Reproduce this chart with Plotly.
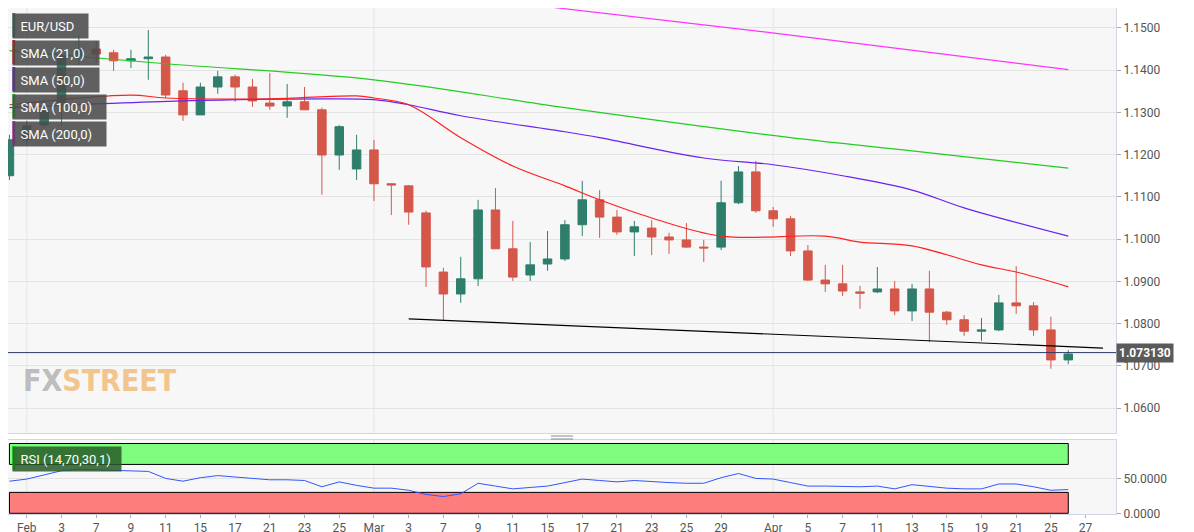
import plotly.graph_objects as go
from plotly.subplots import make_subplots

dates = ["2022-01-31", "2022-02-01", "2022-02-02", "2022-02-03", "2022-02-04",
         "2022-02-07", "2022-02-08", "2022-02-09", "2022-02-10", "2022-02-11",
         "2022-02-14", "2022-02-15", "2022-02-16", "2022-02-17", "2022-02-18",
         "2022-02-21", "2022-02-22", "2022-02-23", "2022-02-24", "2022-02-25",
         "2022-02-28", "2022-03-01", "2022-03-02", "2022-03-03", "2022-03-04",
         "2022-03-07", "2022-03-08", "2022-03-09", "2022-03-10", "2022-03-11",
         "2022-03-14", "2022-03-15", "2022-03-16", "2022-03-17", "2022-03-18",
         "2022-03-21", "2022-03-22", "2022-03-23", "2022-03-24", "2022-03-25",
         "2022-03-28", "2022-03-29", "2022-03-30", "2022-03-31", "2022-04-01",
         "2022-04-04", "2022-04-05", "2022-04-06", "2022-04-07", "2022-04-08",
         "2022-04-11", "2022-04-12", "2022-04-13", "2022-04-14", "2022-04-15",
         "2022-04-18", "2022-04-19", "2022-04-20", "2022-04-21", "2022-04-22",
         "2022-04-25", "2022-04-26"]

opens = [1.1150, 1.1235, 1.1270, 1.1322, 1.1434, 1.1450, 1.1441, 1.1422, 1.1427, 1.1431,
         1.1351, 1.1294, 1.1360, 1.1384, 1.1360, 1.1322, 1.1315, 1.1325, 1.1306, 1.1199,
         1.1166, 1.1211, 1.1131, 1.1126, 1.1062, 1.0922, 1.0870, 1.0906, 1.1069, 1.0977,
         1.0915, 1.0941, 1.0953, 1.1034, 1.1093, 1.1052, 1.1017, 1.1026, 1.1005, 1.0998,
         1.0981, 1.0981, 1.1086, 1.1159, 1.1067, 1.1048, 1.0972, 1.0903, 1.0894, 1.0875,
         1.0875, 1.0882, 1.0830, 1.0882, 1.0827, 1.0809, 1.0782, 1.0785, 1.0849, 1.0842,
         1.0785, 1.0714]
highs = [1.1247, 1.1280, 1.1330, 1.1453, 1.1483, 1.1469, 1.1448, 1.1448, 1.1495, 1.1436,
         1.1370, 1.1370, 1.1398, 1.1389, 1.1379, 1.1393, 1.1367, 1.1360, 1.1311, 1.1270,
         1.1247, 1.1235, 1.1131, 1.1128, 1.1067, 1.0932, 1.0958, 1.1093, 1.1121, 1.1043,
         1.0993, 1.1019, 1.1045, 1.1138, 1.1116, 1.1069, 1.1043, 1.1045, 1.1015, 1.1038,
         1.0998, 1.1138, 1.1173, 1.1185, 1.1076, 1.1055, 1.0986, 1.0939, 1.0939, 1.0889,
         1.0934, 1.0901, 1.0894, 1.0925, 1.0830, 1.0820, 1.0813, 1.0868, 1.0936, 1.0851,
         1.0816, 1.0737]
lows = [1.1140, 1.1223, 1.1263, 1.1268, 1.1412, 1.1417, 1.1398, 1.1405, 1.1377, 1.1334,
        1.1280, 1.1294, 1.1344, 1.1325, 1.1313, 1.1306, 1.1287, 1.1306, 1.1105, 1.1164,
        1.1140, 1.1090, 1.1057, 1.1034, 1.0887, 1.0806, 1.0849, 1.0889, 1.0977, 1.0901,
        1.0901, 1.0925, 1.0948, 1.1007, 1.1003, 1.1010, 1.0960, 1.0962, 1.0965, 1.0979,
        1.0946, 1.0974, 1.1083, 1.1062, 1.1029, 1.0960, 1.0901, 1.0875, 1.0865, 1.0835,
        1.0872, 1.0820, 1.0806, 1.0756, 1.0797, 1.0771, 1.0759, 1.0782, 1.0823, 1.0771,
        1.0693, 1.0704]
closes = [1.1235, 1.1268, 1.1306, 1.1434, 1.1448, 1.1438, 1.1422, 1.1427, 1.1431, 1.1341,
          1.1294, 1.1360, 1.1384, 1.1360, 1.1327, 1.1315, 1.1325, 1.1306, 1.1199, 1.1266,
          1.1211, 1.1131, 1.1128, 1.1064, 1.0934, 1.0870, 1.0906, 1.1069, 1.0977, 1.0910,
          1.0939, 1.0953, 1.1034, 1.1093, 1.1052, 1.1017, 1.1029, 1.1005, 1.0998, 1.0981,
          1.0979, 1.1086, 1.1159, 1.1067, 1.1048, 1.0972, 1.0903, 1.0894, 1.0877, 1.0872,
          1.0882, 1.0830, 1.0882, 1.0827, 1.0809, 1.0782, 1.0785, 1.0849, 1.0842, 1.0785,
          1.0714, 1.0728]

rsi = [46, 49, 55, 61, 63, 62, 61, 60, 60, 50,
       46, 51, 54, 52, 50, 48, 48, 47, 38, 45,
       40, 36, 36, 33, 27, 24, 28, 43, 39, 35,
       37, 39, 44, 49, 47, 45, 47, 45, 44, 43,
       43, 51, 57, 50, 49, 44, 39, 39, 38, 38,
       39, 35, 41, 38, 36, 35, 35, 42, 42, 38,
       33, 34]

sma21_dates = ["2022-01-31", "2022-02-09", "2022-02-11", "2022-02-21", "2022-02-28",
               "2022-03-01", "2022-03-03", "2022-03-08", "2022-03-11", "2022-03-16",
               "2022-03-18", "2022-03-23", "2022-03-29", "2022-04-06", "2022-04-08",
               "2022-04-13", "2022-04-19", "2022-04-21", "2022-04-26"]
sma21 = [1.1318, 1.1341, 1.1334, 1.1332, 1.1339, 1.1334, 1.1318, 1.1240, 1.1173, 1.1126,
         1.1093, 1.1050, 1.1007, 1.1007, 1.0993, 1.0984, 1.0939, 1.0922, 1.0887]
sma50_dates = ["2022-01-31", "2022-02-14", "2022-02-24", "2022-03-01", "2022-03-03",
               "2022-03-08", "2022-03-16", "2022-03-18", "2022-03-28", "2022-04-01",
               "2022-04-07", "2022-04-13", "2022-04-18", "2022-04-26"]
sma50 = [1.1311, 1.1327, 1.1332, 1.1330, 1.1318, 1.1292, 1.1254, 1.1240, 1.1192, 1.1176,
         1.1150, 1.1116, 1.1074, 1.1007]
sma100_dates = ["2022-01-31", "2022-02-11", "2022-03-01", "2022-03-16", "2022-04-04",
                "2022-04-13", "2022-04-26"]
sma100 = [1.1446, 1.1415, 1.1377, 1.1311, 1.1240, 1.1209, 1.1168]
sma200_dates = ["2022-03-15", "2022-04-04", "2022-04-26"]
sma200 = [1.1550, 1.1483, 1.1401]

trend_dates = ["2022-03-03", "2022-04-28"]
trend_vals = [1.0811, 1.0742]
last_price = 1.07313

tick_dates = ["2022-02-01", "2022-02-03", "2022-02-07", "2022-02-09", "2022-02-11",
              "2022-02-15", "2022-02-17", "2022-02-21", "2022-02-23", "2022-02-25",
              "2022-03-01", "2022-03-03", "2022-03-07", "2022-03-09", "2022-03-11",
              "2022-03-15", "2022-03-17", "2022-03-21", "2022-03-23", "2022-03-25",
              "2022-03-29", "2022-04-01", "2022-04-05", "2022-04-07", "2022-04-11",
              "2022-04-13", "2022-04-15", "2022-04-19", "2022-04-21", "2022-04-25",
              "2022-04-27"]
tick_text = ["Feb", "3", "7", "9", "11", "15", "17", "21", "23", "25",
             "Mar", "3", "7", "9", "11", "15", "17", "21", "23", "25",
             "29", "Apr", "5", "7", "11", "13", "15", "19", "21", "25", "27"]
price_ticks = [1.06, 1.07, 1.08, 1.09, 1.10, 1.11, 1.12, 1.13, 1.14, 1.15]

GREEN = "#2f7e6c"
RED = "#d4574a"
H = 508  # plot area height in px

fig = make_subplots(rows=2, cols=1, shared_xaxes=True)

fig.add_trace(go.Candlestick(
    x=dates, open=opens, high=highs, low=lows, close=closes,
    increasing=dict(line=dict(color=GREEN, width=1), fillcolor=GREEN),
    decreasing=dict(line=dict(color=RED, width=1), fillcolor=RED),
    whiskerwidth=0, showlegend=False), row=1, col=1)

for xs, ys, col in [(sma200_dates, sma200, "#ff33ff"), (sma100_dates, sma100, "#22cc22"),
                    (sma50_dates, sma50, "#6a22ee"), (sma21_dates, sma21, "#ff2020")]:
    fig.add_trace(go.Scatter(x=xs, y=ys, mode="lines", line=dict(color=col, width=1.2, shape="spline"),
                             showlegend=False, hoverinfo="skip"), row=1, col=1)

fig.add_trace(go.Scatter(x=trend_dates, y=trend_vals, mode="lines",
                         line=dict(color="black", width=1.2), showlegend=False), row=1, col=1)

# RSI bands
fig.add_trace(go.Scatter(x=[dates[0], dates[-1], dates[-1], dates[0], dates[0]], y=[70, 70, 100, 100, 70],
                         fill="toself", fillcolor="#7dfc7d", mode="lines",
                         line=dict(color="black", width=1), showlegend=False), row=2, col=1)
fig.add_trace(go.Scatter(x=[dates[0], dates[-1], dates[-1], dates[0], dates[0]], y=[0, 0, 30, 30, 0],
                         fill="toself", fillcolor="#fd7c7c", mode="lines",
                         line=dict(color="black", width=1), showlegend=False), row=2, col=1)
fig.add_trace(go.Scatter(x=dates, y=rsi, mode="lines", line=dict(color="#3355ff", width=1),
                         showlegend=False), row=2, col=1)

fig.add_hline(y=last_price, line=dict(color="#2b3a67", width=1), row=1, col=1)

xcommon = dict(rangebreaks=[dict(bounds=["sat", "mon"])], range=["2022-01-30 22:00", "2022-04-28 18:00"],
               showgrid=False, zeroline=False, rangeslider=dict(visible=False),
               showline=True, linecolor="#d0d6e6", mirror=True)
fig.update_xaxes(**xcommon)
fig.update_xaxes(tickvals=tick_dates, ticktext=tick_text, ticks="outside", ticklen=3,
                 tickcolor="#aaa", tickfont=dict(size=12, color="#555"), row=2, col=1)
fig.update_yaxes(side="right", range=[1.0541, 1.1547], tickvals=price_ticks, tickformat=".4f",
                 gridcolor="#e4e4e4", ticks="outside", ticklen=4, tickcolor="#aaa",
                 tickfont=dict(size=12, color="#555"), showline=True, linecolor="#d0d6e6",
                 mirror=True, zeroline=False, domain=[83 / H, 1], row=1, col=1)
fig.update_yaxes(side="right", range=[-1, 105], tickvals=[0, 50], tickformat=".4f",
                 gridcolor="#e4e4e4", ticks="outside", ticklen=4, tickcolor="#aaa",
                 tickfont=dict(size=12, color="#555"), showline=True, linecolor="#d0d6e6",
                 mirror=True, zeroline=False, domain=[2 / H, 76 / H], row=2, col=1)

# month grid lines
for m in ["2022-02-01", "2022-03-01", "2022-04-01"]:
    for ya in ["y domain", "y2 domain"]:
        fig.add_shape(type="line", x0=m, x1=m, y0=0, y1=1, xref="x", yref=ya,
                      line=dict(color="#e4e4e4", width=1), layer="below")

# splitter mark
for dy in [0, 3]:
    fig.add_shape(type="line", xref="paper", yref="paper", x0=0.49, x1=0.51,
                  y0=(H - 428 - dy) / H, y1=(H - 428 - dy) / H, line=dict(color="#888", width=1))

# top-left labels
labels = [("EUR/USD", "#2f7e6c"), ("SMA (21,0)", "#ff0000"), ("SMA (50,0)", "#6a00ff"),
          ("SMA (100,0)", "#00cc00"), ("SMA (200,0)", "#ff00ff")]
for i, (txt, col) in enumerate(labels):
    top = 5 + i * 27
    fig.add_annotation(x=0.004, y=1 - top / H, xref="paper", yref="paper",
                       xanchor="left", yanchor="top", text="&nbsp;&nbsp;" + txt + "&nbsp;&nbsp;&nbsp;&nbsp;",
                       showarrow=False, bgcolor="rgba(75,75,75,0.88)", height=22,
                       font=dict(color="white", size=13, family="Roboto"), align="left")
    fig.add_shape(type="rect", xref="paper", yref="paper", x0=0.004, x1=0.0065,
                  y0=1 - (top + 24) / H, y1=1 - top / H, fillcolor=col, line_width=0)

fig.add_annotation(x=0.004, y=(H - 438) / H, xref="paper", yref="paper", xanchor="left", yanchor="top",
                   text="&nbsp;&nbsp;RSI (14,70,30,1)&nbsp;&nbsp;&nbsp;", showarrow=False, height=22,
                   bgcolor="rgba(40,90,40,0.85)", font=dict(color="white", size=13, family="Roboto"))
fig.add_shape(type="rect", xref="paper", yref="paper", x0=0.004, x1=0.0065,
              y0=(H - 462) / H, y1=(H - 438) / H, fillcolor="#00ff00", line_width=0)

fig.add_annotation(x=1, y=last_price, xref="paper", yref="y", xanchor="left", text="<b>1.073130</b>",
                   showarrow=False, bgcolor="#5a5a5a", font=dict(color="white", size=12), borderpad=2)

fig.add_annotation(x=0.012, y=(H - 392) / H, xref="paper", yref="paper", xanchor="left",
                   text="<b><span style='color:#bdbdbd'>FX</span><span style='color:#f2c58e'>STREET</span></b>",
                   showarrow=False, font=dict(size=30, family="Liberation Sans Narrow, DejaVu Sans Condensed"))

fig.update_layout(width=1194, height=532, margin=dict(l=0, r=86, t=0, b=24, autoexpand=False),
                  paper_bgcolor="white", plot_bgcolor="#f7f7f7",
                  font=dict(family="Roboto, Arial", color="#555"), hovermode=False)

fig.write_html("out.html")
